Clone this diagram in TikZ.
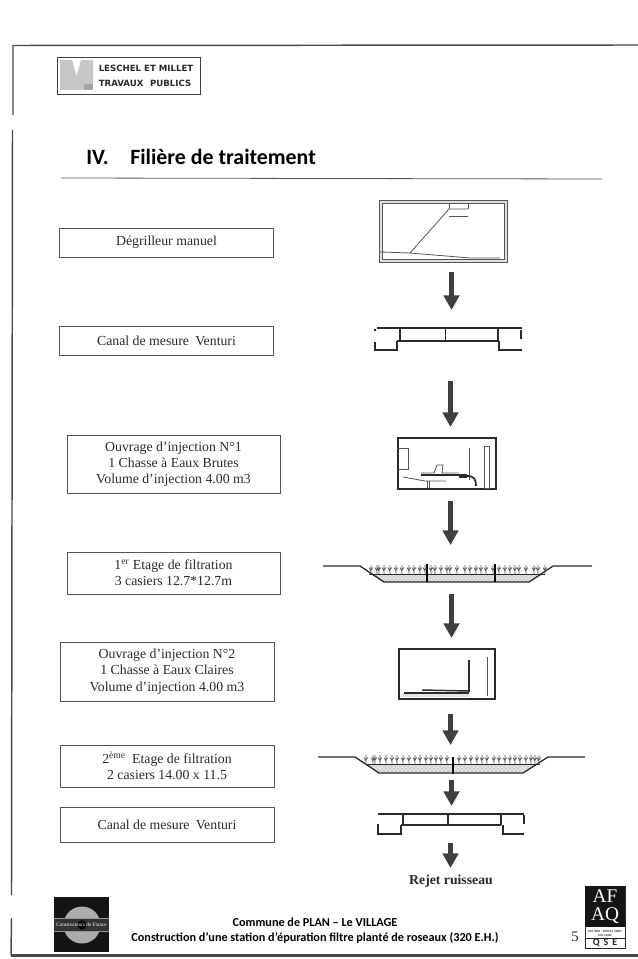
\documentclass[tikz,border=0pt]{standalone}
\usepackage{fontspec}
\setmainfont{Liberation Serif}
\newfontfamily\calfont{Carlito}
\newfontfamily\logofont{DejaVu Sans}
\usetikzlibrary{arrows.meta,patterns}
\definecolor{ink}{HTML}{2A2A2A}
\definecolor{scanline}{HTML}{555555}
\tikzset{
  x=0.75pt,y=-0.75pt,
  frameline/.style={draw=ink!85,line width=1.1pt},
  txtbox/.style={draw=scanline,line width=0.6pt,align=center,font=\fontsize{10.35}{12.2}\selectfont,text=ink,inner sep=0pt},
  thin part/.style={draw=scanline,line width=0.6pt},
  mid part/.style={draw=ink,line width=0.95pt},
  flowarrow/.style={draw=ink!90,line width=3.9pt,-{Triangle[width=11.5pt,length=11pt]}},
  gravel/.style={fill=gray!22},
  gravel dots/.style={pattern=crosshatch dots,pattern color=gray!80},
  plant/.pic={
    \draw[draw=ink!80,line width=0.5pt] (0,0)--(0,-9) (0,-2.5)--(-2,-6.5) (0,-4)--(1.8,-6.5);
  }
}
\begin{document}
\begin{tikzpicture}
\useasboundingbox (0,0) rectangle (638,959);
% page frame
\draw[frameline] (13,115)--(13,45.5)--(638,45);
\draw[frameline] (12.5,130)--(11.5,895);
\draw[frameline] (11.5,918)--(11,955);
\draw[draw=ink!85,line width=1.6pt] (11,955.5)--(638,955.5);

% company header
\node[draw=ink!90,line width=0.6pt,minimum width=107.25pt,minimum height=27.75pt,inner sep=0pt] (hdr) at (128.5,75.5) {};
\fill[gray!45] (60,60)--(72,60)--(76.5,76)--(81,60)--(93,60)--(93,84)--(60,84)--cycle;
\fill[gray!45] (60,84) rectangle (84,90);
\fill[gray!70] (84,84) rectangle (93,90);
\node[anchor=west,inner sep=0pt,font=\logofont\bfseries\fontsize{6.45}{7}\selectfont,text=ink] (co1) at (98.5,68) {LESCHEL ET MILLET};
\node[anchor=west,inner sep=0pt,font=\logofont\bfseries\fontsize{6.45}{7}\selectfont,text=ink] (co2) at (98.5,83) {TRAVAUX\hspace{5pt}PUBLICS};

% title
\node[anchor=west,inner sep=0pt,font=\calfont\bfseries\fontsize{16.4}{18}\selectfont,text=black] (t1) at (86,157) {IV.};
\node[anchor=west,inner sep=0pt,font=\calfont\bfseries\fontsize{16.4}{18}\selectfont,text=black] (t2) at (130,157) {Filière de traitement};
\draw[draw=scanline,line width=0.6pt] (61,178)--(602,179);

% text boxes
\node[txtbox,minimum width=160.5pt,minimum height=21.75pt] (b1) at (166.5,242.5) {Dégrilleur manuel};
\node[txtbox,minimum width=160.5pt,minimum height=21.75pt] (b2) at (166.5,340.5) {Canal de mesure\hspace{0.45em}Venturi};
\node[txtbox,minimum width=159.75pt,minimum height=43.5pt] (b3) at (173.5,464) {Ouvrage d’injection N°1\\1 Chasse à Eaux Brutes\\Volume d’injection 4.00 m3};
\node[txtbox,minimum width=159.75pt,minimum height=31.5pt] (b4) at (173.5,573) {1\textsuperscript{er} Etage de filtration\\3 casiers 12.7*12.7m};
\node[txtbox,minimum width=160.5pt,minimum height=44.25pt] (b5) at (167,671.5) {Ouvrage d’injection N°2\\1 Chasse à Eaux Claires\\Volume d’injection 4.00 m3};
\node[txtbox,minimum width=160.5pt,minimum height=31.5pt] (b6) at (167,766) {2\textsuperscript{ème}\hspace{0.2em} Etage de filtration\\2 casiers 14.00 x 11.5};
\node[txtbox,minimum width=160.5pt,minimum height=26.25pt] (b7) at (167,824.5) {Canal de mesure\hspace{0.45em}Venturi};

% grille drawing
\draw[thin part,fill=gray!25] (379,200) rectangle (507,262);
\fill[white] (382,203) rectangle (504,259);
\draw[thin part] (382,203) rectangle (504,259);
\draw[thin part] (380,252)--(396,252.5)--(410,253)--(449,209)--(468,209);
\draw[thin part] (449,216)--(468,216) (449,204)--(449,209) (468,204)--(468,209);
\draw[thin part] (410,253)--(470,258)--(500,258);

% venturi 1
\draw[mid part] (377,328)--(522,328);
\draw[mid part] (400,328)--(400,341) (445.5,328)--(445.5,341) (498,328)--(498,341);
\draw[mid part] (397,341)--(498,341);
\draw[mid part] (375,342)--(375,350)--(397,350)--(397,341);
\draw[mid part] (499,341)--(499,350)--(522,350) (521,330)--(521,339);
\draw[mid part] (375,329)--(375,331);

% injection 1
\draw[mid part] (398,438) rectangle (496,489);
\draw[thin part] (398,448)--(408,448)--(408,469)--(398,469);
\draw[thin part] (469,448)--(469,480);
\draw[thin part] (484,446) rectangle (489,488);
\draw[thin part] (403,477)--(425,481)--(446,481);
\draw[thin part] (427,481)--(427,488) (429,481)--(429,488);
\draw[mid part,line width=1.4pt] (421,475)--(459,475);
\draw[thin part] (421,473)--(434,473)--(437,465)--(443,465)--(442,473)--(459,473);
\draw[ink,line width=2.4pt] (459,476)--(467,476);
\draw[mid part,line width=1.3pt] (467,476) .. controls (474,476) and (476,479) .. (476,486);

% filter 1
\fill[gravel] (373,574)--(545,574)--(529,582)--(384,582)--cycle;
\fill[gravel dots] (373,574)--(545,574)--(529,582)--(384,582)--cycle;
\draw[mid part] (323,566)--(360,566)--(384,582)--(529,582)--(553,566)--(592,566);
\draw[mid part,line width=0.6pt] (369,574)--(545,574);
\draw[draw=black,line width=1.9pt] (427,564)--(427,582) (495,564)--(495,582);
\foreach \px in {371,377,379,384,390,396,402,409,414,420,425,431,435,441,447,450,457,465,470,476,481,486,493,499,505,510,515,519,526,534,538,545}
  \pic at (\px,574) {plant};

% injection 2
\draw[mid part] (399,649) rectangle (495,699);
\draw[mid part] (469,660)--(469,692);
\draw[thin part] (487,657)--(487,696);
\fill[gravel] (401,693) rectangle (468,697);
\draw[mid part,line width=1.1pt] (404,693)--(469,693);
\draw[mid part,line width=1.1pt] (422,690)--(469,691);

% filter 2
\fill[gravel] (366,764)--(538,764)--(523,773)--(379,773)--cycle;
\fill[gravel dots] (366,764)--(538,764)--(523,773)--(379,773)--cycle;
\draw[mid part] (318,757)--(355,757)--(379,773)--(523,773)--(548,757)--(585,757);
\draw[mid part,line width=0.6pt] (366,764)--(540,764);
\draw[draw=black,line width=1.9pt] (453,757)--(453,774);
\foreach \px in {366,373,375,380,386,392,397,403,409,415,420,426,431,436,441,447,459,465,471,477,482,487,494,499,505,510,515,520,526,531,535,539}
  \pic at (\px,764) {plant};

% venturi 2
\draw[mid part] (378,814)--(524,814);
\draw[mid part] (403,814)--(403,825) (448,814)--(448,825) (501,814)--(501,825);
\draw[mid part] (401,825)--(501,825);
\draw[mid part] (378,824)--(378,834)--(401,834)--(401,825);
\draw[mid part] (503,825)--(503,834)--(524,834) (524,815)--(524,824);

% flow arrows
\coordinate (a1s) at (451.5,272); \coordinate (a1e) at (451.5,310);
\coordinate (a2s) at (450.5,381); \coordinate (a2e) at (450.5,427);
\coordinate (a3s) at (450.5,501); \coordinate (a3e) at (450.5,545);
\coordinate (a4s) at (451.5,594); \coordinate (a4e) at (451.5,638);
\coordinate (a5s) at (450.5,714); \coordinate (a5e) at (450.5,745);
\coordinate (a6s) at (451.5,780); \coordinate (a6e) at (451.5,806);
\coordinate (a7s) at (450.5,843); \coordinate (a7e) at (450.5,868);
\foreach \k in {1,...,7} \draw[flowarrow] (a\k s)--(a\k e);

\node[inner sep=0pt,font=\bfseries\fontsize{10.3}{12}\selectfont,text=ink] (rej) at (451,881) {Rejet ruisseau};

% footer
\fill[black!92] (54,897) rectangle (109,952);
\fill[gray!65] (82,925) circle[radius=18.5];
\fill[black!80] (54,919) rectangle (109,931);
\fill[black] (82,925) circle[radius=4.5];
\draw[gray!85,line width=0.4pt] (54,918.5)--(109,918.5) (54,931)--(109,931);
\node[inner sep=0pt,font=\fontsize{3.9}{4}\selectfont,text=white] (cf) at (81.5,925) {Constructeurs de France};

\node[inner sep=0pt,font=\calfont\bfseries\fontsize{9.15}{10}\selectfont,text=black] (f1) at (315,922) {Commune de PLAN – Le VILLAGE};
\node[inner sep=0pt,font=\calfont\bfseries\fontsize{9.15}{10}\selectfont,text=black] (f2) at (315,938) {Construction d’une station d’épuration filtre planté de roseaux (320 E.H.)};
\node[inner sep=0pt,font=\fontsize{11}{12}\selectfont,text=ink] (pg) at (575,937) {5};

% AFAQ mark
\fill[white] (585,886) rectangle (625,948);
\draw[draw=ink,line width=0.6pt] (585,886) rectangle (625,948);
\fill[black!92] (585,886) rectangle (625,927);
\node[inner sep=0pt,font=\fontsize{14.5}{15}\selectfont,text=white] (af) at (605,896) {AF};
\node[inner sep=0pt,font=\fontsize{14.5}{15}\selectfont,text=white] (aq) at (605,916) {AQ};
\node[inner sep=0pt,font=\bfseries\fontsize{2.3}{3}\selectfont,align=center,text=ink] (iso) at (605,933) {ISO 9001 · OHSAS 18001\\ISO 14001};
\draw[draw=ink,line width=0.5pt] (585,938)--(625,938);
\node[inner sep=0pt,font=\calfont\bfseries\fontsize{7.5}{8}\selectfont,text=ink] (qse) at (605,943) {Q\hspace{3pt}S\hspace{3pt}E};
\end{tikzpicture}
\end{document}
